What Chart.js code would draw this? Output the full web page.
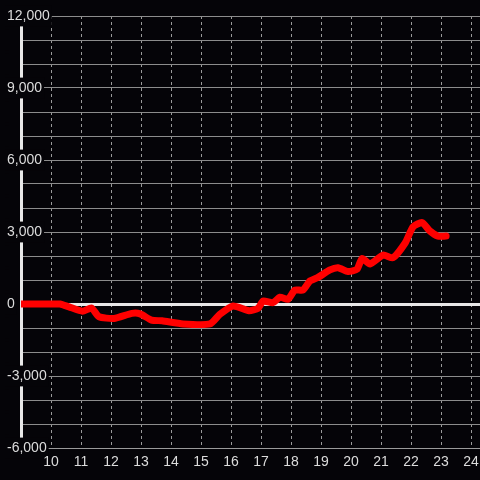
<!DOCTYPE html>
<html lang="en">
<head>
    <meta charset="UTF-8">
    <title>Line chart</title>
    <script src="https://cdn.jsdelivr.net/npm/chart.js"></script>
    <style>
        html, body { margin: 0; padding: 0; background: #050408; }
        #myChart { display: block; }
    </style>
</head>
<body>
    <canvas id="myChart" width="480" height="480"></canvas>

    <script>
        // hours and values
        const hours = [9.0, 10.0, 10.3, 10.6, 11.05, 11.35, 11.6, 12.1, 12.7, 12.97,
            13.35, 13.7, 14.4, 15.3, 15.63, 16.07, 16.6, 16.9, 17.07, 17.4,
            17.63, 17.9, 18.13, 18.4, 18.63, 18.9, 19.3, 19.57, 19.9, 20.2,
            20.37, 20.63, 21.07, 21.4, 21.8, 22.07, 22.37, 22.63, 22.9, 23.17];
        const values = [0, 0, 0, -120, -300, -170, -530, -600, -390, -410,
            -670, -700, -830, -830, -430, -80, -280, -180, 120, 55,
            280, 195, 580, 580, 960, 1110, 1420, 1510, 1350, 1450,
            1900, 1670, 2040, 1930, 2530, 3220, 3390, 3040, 2830, 2830];
        const xTicks = [10, 11, 12, 13, 14, 15, 16, 17, 18, 19, 20, 21, 22, 23, 24];
        const yLabelled = [-6000, -3000, 0, 3000, 6000, 9000, 12000];

        const bg = '#050408';
        const labelColor = '#dcdcdc';

        const backgroundPlugin = {
            id: 'bg',
            beforeDraw(chart) {
                const c = chart.ctx;
                c.save();
                c.fillStyle = bg;
                c.fillRect(0, 0, chart.width, chart.height);
                c.restore();
            }
        };

        const ctx = document.getElementById('myChart').getContext('2d');
        const chart = new Chart(ctx, {
            type: 'line',
            data: {
                datasets: [{
                    data: hours.map((h, i) => ({ x: h, y: values[i] })),
                    borderColor: '#ff0000',
                    borderWidth: 7,
                    borderCapStyle: 'round',
                    borderJoinStyle: 'round',
                    tension: 0.2,
                    pointRadius: 0,
                    fill: false
                }]
            },
            options: {
                responsive: false,
                animation: false,
                layout: {
                    padding: { top: 16, left: 7, right: 0, bottom: 0 }
                },
                plugins: {
                    legend: { display: false },
                    tooltip: { enabled: false }
                },
                scales: {
                    x: {
                        type: 'linear',
                        min: 9,
                        max: 24.3,
                        afterBuildTicks(scale) {
                            scale.ticks = xTicks.map(v => ({ value: v }));
                        },
                        afterFit(scale) {
                            scale.height = 32;
                            scale.paddingRight = 0;
                            scale.paddingLeft = 0;
                        },
                        grid: {
                            color: '#9a9a9a',
                            lineWidth: 1,
                            drawTicks: false
                        },
                        border: {
                            color: '#9a9a9a',
                            width: 1,
                            dash: [3, 3]
                        },
                        ticks: {
                            z: 1, // keep "10" above the y label backdrop
                            color: labelColor,
                            padding: 6,
                            maxRotation: 0,
                            font: { family: 'Liberation Sans', size: 14 }
                        }
                    },
                    y: {
                        min: -6000,
                        max: 12000,
                        afterFit(scale) {
                            scale.width = 14;
                        },
                        grid: {
                            drawTicks: false,
                            color: c => c.tick && c.tick.value === 0 ? '#e8e8e8' : '#8c8c8c',
                            lineWidth: c => c.tick && c.tick.value === 0 ? 3 : 1
                        },
                        border: {
                            color: '#e8e8e8',
                            width: 3
                        },
                        ticks: {
                            stepSize: 1000,
                            autoSkip: false,
                            color: labelColor,
                            mirror: true,
                            padding: -14,
                            showLabelBackdrop: true,
                            backdropColor: bg,
                            backdropPadding: 2,
                            font: { family: 'Liberation Sans', size: 14 },
                            callback: v => yLabelled.includes(v) ? v.toLocaleString('en-US') : ''
                        }
                    }
                }
            },
            plugins: [backgroundPlugin]
        });
    </script>
</body>
</html>
